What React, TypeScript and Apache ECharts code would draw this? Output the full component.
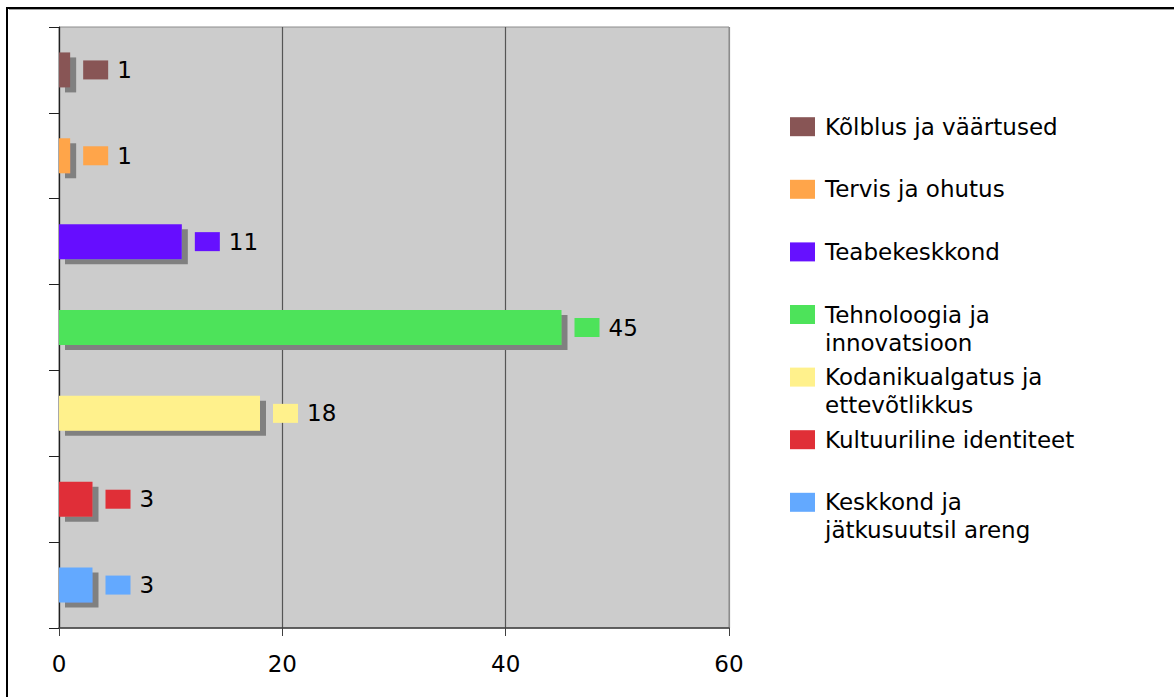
import React, { useEffect, useRef } from "react";
import * as echarts from "echarts";

// Topics listed from top to bottom
const categories = [
  "Kõlblus ja väärtused",
  "Tervis ja ohutus",
  "Teabekeskkond",
  "Tehnoloogia ja\ninnovatsioon",
  "Kodanikualgatus ja\nettevõtlikkus",
  "Kultuuriline identiteet",
  "Keskkond ja\njätkusuutsil areng",
];
const values = [1, 1, 11, 45, 18, 3, 3];
const colors = ["#885555", "#ffa54a", "#6611ff", "#4de35a", "#fff18c", "#e02f37", "#63a9ff"];
const xTicks = [0, 20, 40, 60];

const FONT = "DejaVu Sans";

export default function App() {
  const ref = useRef<HTMLDivElement>(null);

  useEffect(() => {
    if (!ref.current) return;
    const chart = echarts.init(ref.current, null, { renderer: "svg" });

    const gridLeft = 59;
    const gridTop = 27;
    const gridWidth = 670;
    const gridHeight = 601;

    // Legend drawn as a fixed column: key square aligned with the first text line
    const legendX = 790;
    const legendStartY = 126.7;
    const legendStep = 62.6;
    const legendGraphics: any[] = [];
    categories.forEach((name, i) => {
      const cy = legendStartY + i * legendStep;
      legendGraphics.push({
        type: "rect",
        shape: { x: legendX, y: cy - 9.5, width: 25, height: 19 },
        style: { fill: colors[i] },
        silent: true,
      });
      legendGraphics.push({
        type: "text",
        x: legendX + 35,
        y: cy - 14,
        style: {
          text: name,
          fontFamily: FONT,
          fontSize: 23,
          lineHeight: 28,
          fill: "#000",
          verticalAlign: "top",
          align: "left",
        },
        silent: true,
      });
    });

    // Outer frame (left and top edges)
    const frame = [
      { type: "line", shape: { x1: 7, y1: 8, x2: 1174, y2: 8 }, style: { stroke: "#000", lineWidth: 2 } },
      { type: "line", shape: { x1: 9, y1: 9.5, x2: 1174, y2: 9.5 }, style: { stroke: "#a0a0a0", lineWidth: 1 } },
      { type: "line", shape: { x1: 7, y1: 7, x2: 7, y2: 697 }, style: { stroke: "#000", lineWidth: 2 } },
    ];

    const option: any = {
      animation: false,
      backgroundColor: "#ffffff",
      grid: {
        left: gridLeft,
        top: gridTop,
        width: gridWidth,
        height: gridHeight,
        show: true,
        backgroundColor: "#cccccc",
        borderColor: "#8c8c8c",
        borderWidth: 1,
        containLabel: false,
      },
      xAxis: {
        type: "value",
        min: xTicks[0],
        max: xTicks[xTicks.length - 1],
        interval: 20,
        axisLine: { show: true, lineStyle: { color: "#404040", width: 1.5 } },
        axisTick: { show: true, length: 8, lineStyle: { color: "#404040" } },
        axisLabel: {
          fontFamily: FONT,
          fontSize: 23,
          color: "#000",
          margin: 24,
        },
        splitLine: {
          show: true,
          lineStyle: { color: ["#555555", "#555555", "#555555", "#8c8c8c"], width: 1.2 },
        },
      },
      yAxis: {
        type: "category",
        data: categories,
        inverse: true,
        axisLine: { show: true, lineStyle: { color: "#202020", width: 1.2 } },
        axisTick: { show: true, inside: false, length: 10, lineStyle: { color: "#202020" } },
        axisLabel: { show: false },
        splitLine: { show: false },
      },
      series: [
        {
          type: "bar",
          barWidth: 35,
          data: values.map((v, i) => ({
            value: v,
            itemStyle: {
              color: colors[i],
              shadowColor: "#808080",
              shadowOffsetX: 6,
              shadowOffsetY: 5,
              shadowBlur: 0,
            },
            label: {
              show: true,
              position: "right",
              distance: 13,
              formatter: "{box| }{val|" + v + "}",
              rich: {
                box: { width: 25, height: 19, backgroundColor: colors[i] },
                val: { fontFamily: FONT, fontSize: 23, color: "#000", padding: [0, 0, 0, 9] },
              },
            },
          })),
        },
      ],
      graphic: [...frame, ...legendGraphics],
    };

    chart.setOption(option);
    return () => chart.dispose();
  }, []);

  return (
    <div
      ref={ref}
      style={{ position: "absolute", left: 0, top: 0, width: 1174, height: 697, background: "#fff" }}
    />
  );
}
